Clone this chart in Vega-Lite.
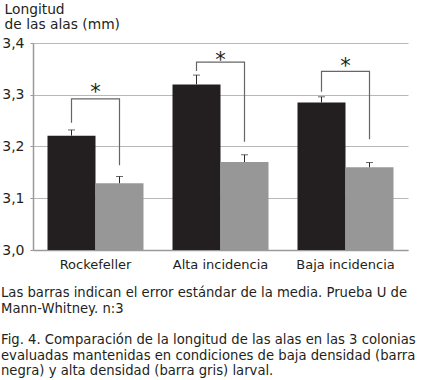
{
  "$schema": "https://vega.github.io/schema/vega-lite/v6.json",
  "width": 375,
  "height": 207,
  "autosize": {"type": "none"},
  "padding": {"left": 33, "top": 43, "right": 16, "bottom": 130},
  "background": "white",
  "config": {
    "font": "DejaVu Sans",
    "view": {"stroke": null}
  },
  "datasets": {
    "bars": [
      {"colonia": "Rockefeller", "densidad": "baja", "valor": 3.221, "sup": 3.232},
      {"colonia": "Rockefeller", "densidad": "alta", "valor": 3.129, "sup": 3.142},
      {"colonia": "Alta incidencia", "densidad": "baja", "valor": 3.320, "sup": 3.338},
      {"colonia": "Alta incidencia", "densidad": "alta", "valor": 3.170, "sup": 3.184},
      {"colonia": "Baja incidencia", "densidad": "baja", "valor": 3.285, "sup": 3.296},
      {"colonia": "Baja incidencia", "densidad": "alta", "valor": 3.160, "sup": 3.169}
    ],
    "brackets": [
      {"colonia": "Rockefeller", "densidad": "baja", "orden": 1, "y": 3.246},
      {"colonia": "Rockefeller", "densidad": "baja", "orden": 2, "y": 3.292},
      {"colonia": "Rockefeller", "densidad": "alta", "orden": 3, "y": 3.292},
      {"colonia": "Rockefeller", "densidad": "alta", "orden": 4, "y": 3.164},
      {"colonia": "Alta incidencia", "densidad": "baja", "orden": 1, "y": 3.346},
      {"colonia": "Alta incidencia", "densidad": "baja", "orden": 2, "y": 3.363},
      {"colonia": "Alta incidencia", "densidad": "alta", "orden": 3, "y": 3.363},
      {"colonia": "Alta incidencia", "densidad": "alta", "orden": 4, "y": 3.209},
      {"colonia": "Baja incidencia", "densidad": "baja", "orden": 1, "y": 3.306},
      {"colonia": "Baja incidencia", "densidad": "baja", "orden": 2, "y": 3.345},
      {"colonia": "Baja incidencia", "densidad": "alta", "orden": 3, "y": 3.345},
      {"colonia": "Baja incidencia", "densidad": "alta", "orden": 4, "y": 3.214}
    ],
    "stars": [
      {"colonia": "Rockefeller", "y": 3.313, "t": "*"},
      {"colonia": "Alta incidencia", "y": 3.374, "t": "*"},
      {"colonia": "Baja incidencia", "y": 3.364, "t": "*"}
    ]
  },
  "title": {
    "text": ["Las barras indican el error estándar de la media. Prueba U de", "Mann-Whitney. n:3"],
    "subtitle": ["Fig. 4. Comparación de la longitud de las alas en las 3 colonias", "evaluadas mantenidas en condiciones de baja densidad (barra", "negra) y alta densidad (barra gris) larval."],
    "orient": "bottom",
    "anchor": "start",
    "frame": "group",
    "dx": -32,
    "offset": 16,
    "fontSize": 13.2,
    "fontWeight": "normal",
    "lineHeight": 16,
    "color": "#231f20",
    "subtitleFontSize": 13.2,
    "subtitleColor": "#231f20",
    "subtitleLineHeight": 15.5,
    "subtitlePadding": 18
  },
  "encoding": {
    "x": {
      "field": "colonia",
      "type": "nominal",
      "sort": ["Rockefeller", "Alta incidencia", "Baja incidencia"],
      "scale": {"paddingInner": 0.232, "paddingOuter": 0.116},
      "axis": {
        "title": null,
        "labelAngle": 0,
        "labelFontSize": 13,
        "labelColor": "#231f20",
        "labelPadding": 8,
        "ticks": false,
        "domainColor": "#9a9a9a",
        "domainWidth": 1.5,
        "grid": false
      }
    }
  },
  "layer": [
    {
      "data": {"name": "bars"},
      "mark": {"type": "bar"},
      "encoding": {
        "xOffset": {"field": "densidad", "type": "nominal", "sort": ["baja", "alta"], "scale": {"paddingInner": 0, "paddingOuter": 0}},
        "y": {
          "field": "valor",
          "type": "quantitative",
          "scale": {"domain": [3.0, 3.4], "zero": false, "nice": false},
          "axis": {
            "title": ["Longitud", "de las alas (mm)"],
            "titleAngle": 0,
            "titleAlign": "left",
            "titleBaseline": "top",
            "titleX": -29,
            "titleY": -41,
            "titleFontSize": 13.8,
            "titleFontWeight": "normal",
            "titleLineHeight": 15.5,
            "titleColor": "#231f20",
            "values": [3.0, 3.1, 3.2, 3.3, 3.4],
            "labelExpr": "replace(format(datum.value, '.1f'), '.', ',')",
            "labelFontSize": 14,
            "labelColor": "#231f20",
            "labelPadding": 6,
            "tickSize": 3,
            "tickColor": "#9a9a9a",
            "domainColor": "#9a9a9a",
            "domainWidth": 1.5,
            "gridColor": "#b8b8b8",
            "gridWidth": 1.2
          }
        },
        "y2": {"datum": 3.0},
        "color": {
          "field": "densidad",
          "type": "nominal",
          "scale": {"domain": ["baja", "alta"], "range": ["#231f20", "#979797"]},
          "legend": null
        }
      }
    },
    {
      "data": {"name": "bars"},
      "mark": {"type": "rule", "color": "#2a2a2a", "strokeWidth": 1},
      "encoding": {
        "xOffset": {"field": "densidad", "type": "nominal", "sort": ["baja", "alta"]},
        "y": {"field": "valor", "type": "quantitative"},
        "y2": {"field": "sup"}
      }
    },
    {
      "data": {"name": "bars"},
      "mark": {"type": "tick", "color": "#2a2a2a", "thickness": 1, "size": 7, "orient": "horizontal"},
      "encoding": {
        "xOffset": {"field": "densidad", "type": "nominal", "sort": ["baja", "alta"]},
        "y": {"field": "sup", "type": "quantitative"}
      }
    },
    {
      "data": {"name": "brackets"},
      "mark": {"type": "line", "color": "#666666", "strokeWidth": 1.2},
      "encoding": {
        "xOffset": {"field": "densidad", "type": "nominal", "sort": ["baja", "alta"]},
        "y": {"field": "y", "type": "quantitative"},
        "detail": {"field": "colonia"},
        "order": {"field": "orden"}
      }
    },
    {
      "data": {"name": "stars"},
      "mark": {"type": "text", "fontSize": 21, "color": "#231f20", "baseline": "middle", "dy": 5},
      "encoding": {
        "y": {"field": "y", "type": "quantitative"},
        "text": {"field": "t"}
      }
    }
  ]
}
